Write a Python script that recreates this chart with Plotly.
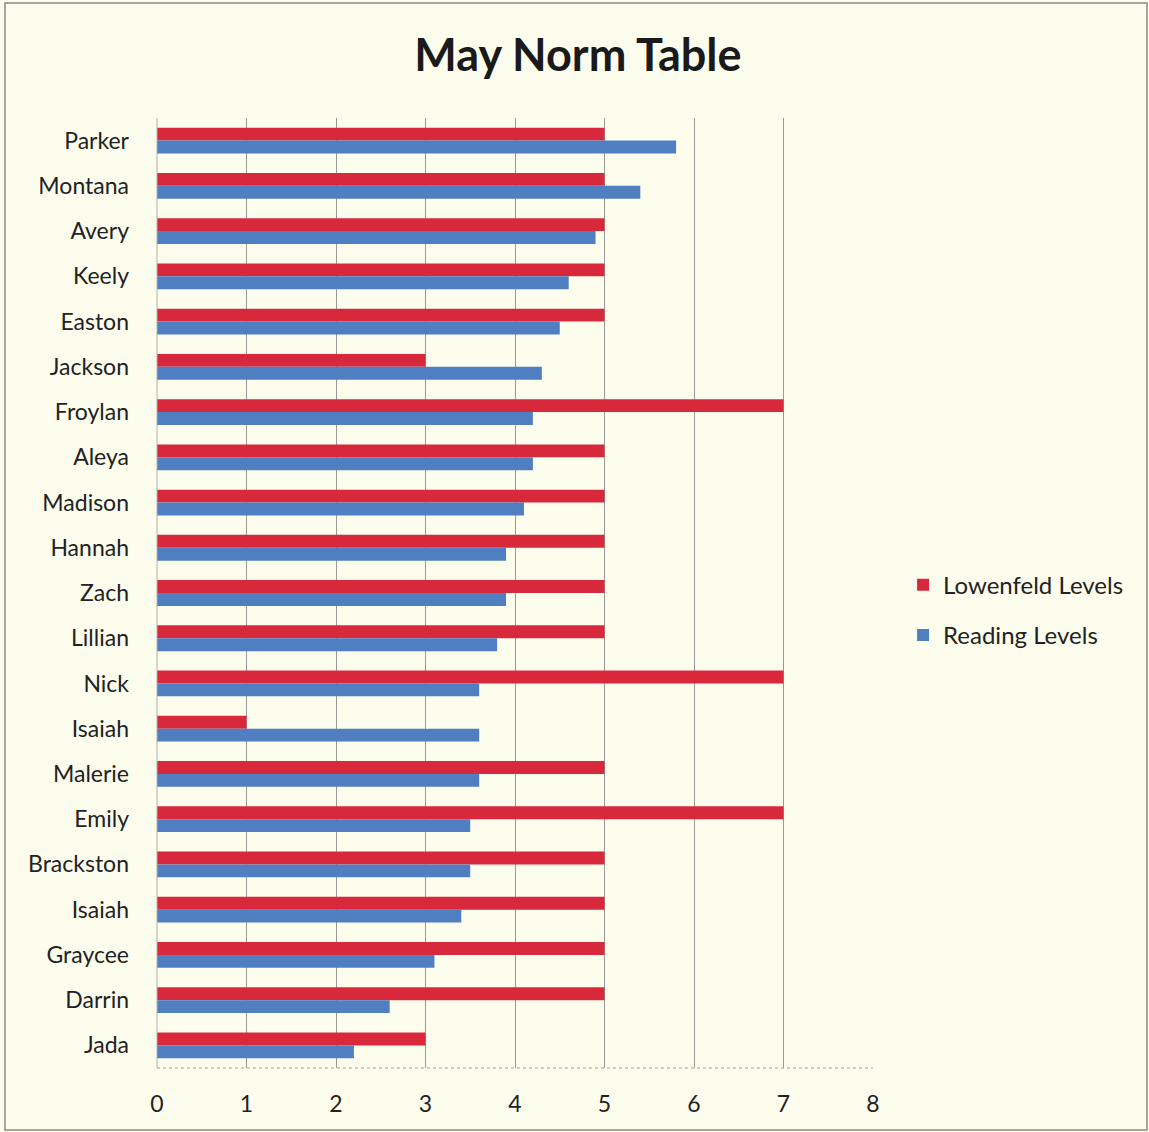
import plotly.graph_objects as go

# Students, top to bottom as listed in the chart
students = ["Parker", "Montana", "Avery", "Keely", "Easton", "Jackson", "Froylan",
            "Aleya", "Madison", "Hannah", "Zach", "Lillian", "Nick", "Isaiah",
            "Malerie", "Emily", "Brackston", "Isaiah", "Graycee", "Darrin", "Jada"]

lowenfeld_levels = [5, 5, 5, 5, 5, 3, 7, 5, 5, 5, 5, 5, 7, 1, 5, 7, 5, 5, 5, 5, 3]
reading_levels = [5.8, 5.4, 4.9, 4.6, 4.5, 4.3, 4.2, 4.2, 4.1, 3.9, 3.9, 3.8, 3.6,
                  3.6, 3.6, 3.5, 3.5, 3.4, 3.1, 2.6, 2.2]

x_ticks = [0, 1, 2, 3, 4, 5, 6, 7, 8]

# Positional slots so the two students named Isaiah keep separate rows
rows = list(range(len(students)))

BG = "#fdfdee"
RED = "#d8283c"
BLUE = "#4f7fc1"
FONT = "Lato"

fig = go.Figure()
fig.add_trace(go.Bar(
    name="Lowenfeld Levels", y=rows, x=lowenfeld_levels, orientation="h",
    marker=dict(color=RED, line=dict(width=0)), legendgroup="lowenfeld",
))
fig.add_trace(go.Bar(
    name="Reading Levels", y=rows, x=reading_levels, orientation="h",
    marker=dict(color=BLUE, line=dict(width=0)), legendgroup="reading",
))

fig.update_layout(
    width=1149, height=1132,
    paper_bgcolor=BG, plot_bgcolor=BG,
    margin=dict(l=157, r=276, t=118, b=64),
    barmode="group", bargap=0.43, bargroupgap=0.0,
    title=dict(text="<b>May Norm Table</b>", x=0.503, xref="container",
               y=1 - 55 / 1132, yref="container", xanchor="center", yanchor="middle",
               font=dict(family=FONT, size=45, color="#1a1a1a")),
    font=dict(family=FONT, size=23, color="#222222"),
    legend=dict(x=1.042, xanchor="left", y=0.482, yanchor="middle",
                bgcolor="rgba(0,0,0,0)", font=dict(size=24, color="#222222"),
                itemwidth=30, tracegroupgap=16),
    showlegend=True,
)

fig.update_xaxes(
    range=[0, 8], tickvals=x_ticks, ticktext=[str(t) for t in x_ticks],
    showgrid=True, gridcolor="#9a9a94", gridwidth=1,
    zeroline=False, showline=False, ticks="", ticklabelstandoff=20,
    tickfont=dict(size=23, color="#222222"),
)
fig.update_yaxes(
    range=[len(students) - 0.5, -0.5], tickvals=rows, ticktext=students,
    showgrid=False, zeroline=False, showline=False, ticks="",
    ticklabelstandoff=27, tickfont=dict(size=23, color="#222222"),
)

# Dotted baseline along the value axis and the left axis line
fig.add_shape(type="line", xref="paper", yref="paper", x0=0, x1=1, y0=0, y1=0,
              line=dict(color="#a0a09a", width=1, dash="dot"))
fig.add_shape(type="line", xref="paper", yref="paper", x0=0, x1=0, y0=0, y1=1,
              line=dict(color="#b0b0aa", width=1))

# Frame around the whole chart
fig.add_shape(type="rect", xref="paper", yref="paper",
              x0=(5 - 157) / 716, x1=(1147 - 157) / 716,
              y0=(1068 - 1130) / 950, y1=(1068 - 3) / 950,
              line=dict(color="#8a8a86", width=1.5), fillcolor="rgba(0,0,0,0)",
              layer="below")

fig.write_html("out.html")
